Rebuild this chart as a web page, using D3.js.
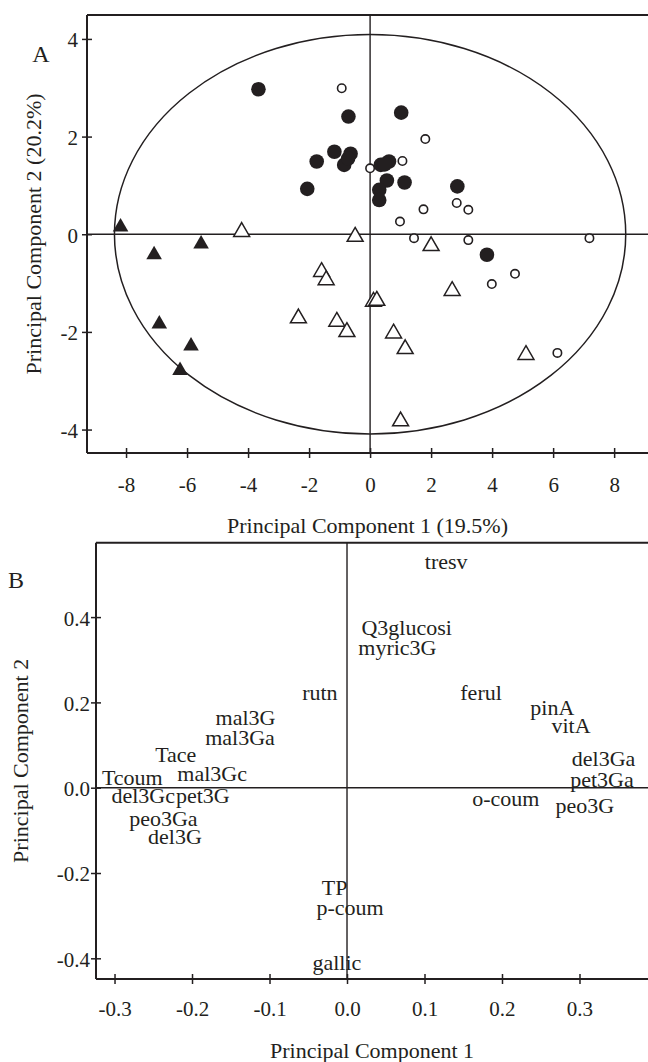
<!DOCTYPE html>
<html><head><meta charset="utf-8">
<script src="https://cdn.jsdelivr.net/npm/d3@7"></script>
<style>
body{margin:0;background:#fff;}
svg text{font-family:"Liberation Serif","Times New Roman",serif;fill:#231f20;}
</style></head>
<body><svg id="c" width="648" height="1062"></svg>
<script>
// ---------- Panel A data (scores) ----------
const filledCircles = [[-3.66,2.97],[-0.71,2.41],[1.02,2.49],[-1.75,1.49],[-2.06,0.93],[-1.17,1.69],[-0.64,1.65],[-0.85,1.42],[-0.72,1.55],[0.35,1.42],[0.62,1.49],[0.48,1.43],[0.55,1.10],[1.13,1.06],[0.30,0.91],[0.30,0.70],[2.86,0.98],[3.83,-0.42]];
const openCircles = [[-0.93,2.99],[1.81,1.95],[0.0,1.35],[1.06,1.50],[2.84,0.64],[3.22,0.50],[1.75,0.51],[0.98,0.26],[1.44,-0.08],[3.22,-0.12],[7.19,-0.08],[4.75,-0.81],[3.99,-1.02],[6.14,-2.43]];
const openTriangles = [[-4.21,0.05],[-0.49,-0.05],[2.0,-0.24],[-1.59,-0.77],[-1.44,-0.94],[2.69,-1.16],[-2.35,-1.72],[-1.09,-1.79],[-0.76,-2.0],[0.11,-1.38],[0.22,-1.36],[0.77,-2.03],[1.15,-2.35],[5.11,-2.47],[1.0,-3.83]];
const filledTriangles = [[-8.18,0.15],[-7.08,-0.42],[-5.54,-0.20],[-6.91,-1.84],[-5.87,-2.29],[-6.23,-2.79]];
const ellipseRadii = [8.38, 4.09];
const xTicksA = [-8,-6,-4,-2,0,2,4,6,8];
const yTicksA = [-4,-2,0,2,4];

// ---------- Panel B data (loadings) ----------
const loadNames = ["tresv","Q3glucosi","myric3G","rutn","ferul","pinA","vitA","mal3G","mal3Ga","Tace","Tcoum","mal3Gc","del3Ga","pet3Ga","o-coum","peo3G","del3Gc","pet3G","peo3Ga","del3G","TP","p-coum","gallic"];
const loadPC1 = [0.128,0.077,0.065,-0.035,0.173,0.265,0.289,-0.131,-0.138,-0.221,-0.277,-0.174,0.331,0.329,0.205,0.307,-0.263,-0.186,-0.237,-0.222,-0.016,0.004,-0.013];
const loadPC2 = [0.531,0.376,0.329,0.224,0.224,0.189,0.146,0.165,0.118,0.078,0.024,0.034,0.069,0.020,-0.025,-0.041,-0.018,-0.018,-0.072,-0.114,-0.234,-0.280,-0.409];
const xTicksB = [-0.3,-0.2,-0.1,0.0,0.1,0.2,0.3];
const yTicksB = [-0.4,-0.2,0.0,0.2,0.4];

const svg = d3.select("#c");
const hy = f => (d => f(d).replace("\u2212","-"));

// ---------- Panel A ----------
const xA = d3.scaleLinear().domain([-9.28, 9.11]).range([87, 648]);
const yA = d3.scaleLinear().domain([-4.48, 4.49]).range([453, 15]);
const gA = svg.append("g");

function frame(g, x, y){
  const [x0,x1] = x.range(), [y0,y1] = y.range();
  g.append("line").attr("x1",x0).attr("x2",x1).attr("y1",y1).attr("y2",y1).attr("stroke","#231f20").attr("stroke-width",2);
  g.append("line").attr("x1",x0).attr("x2",x0).attr("y1",y1).attr("y2",y0).attr("stroke","#231f20").attr("stroke-width",2);
  g.append("line").attr("x1",x0).attr("x2",x1).attr("y1",y0).attr("y2",y0).attr("stroke","#231f20").attr("stroke-width",2);
  g.append("line").attr("x1",x(0)).attr("x2",x(0)).attr("y1",y1).attr("y2",y0).attr("stroke","#231f20").attr("stroke-width",1.4);
  g.append("line").attr("x1",x0).attr("x2",x1).attr("y1",y(0)).attr("y2",y(0)).attr("stroke","#231f20").attr("stroke-width",1.4);
}
function axes(g, x, y, xt, yt, fmt, xLabBase, yLabGap){
  const [y0] = y.range(), [x0] = x.range();
  const ax = g.append("g").attr("transform",`translate(0,${y0})`)
    .call(d3.axisBottom(x).tickValues(xt).tickFormat(fmt).tickSize(5).tickPadding(0));
  ax.select(".domain").remove();
  ax.selectAll(".tick line").attr("y1",-5).attr("y2",5).attr("stroke","#231f20").attr("stroke-width",1.5);
  ax.selectAll(".tick text").attr("y", xLabBase - y0).attr("dy",null).attr("font-size",21).attr("fill","#231f20");
  const ay = g.append("g").attr("transform",`translate(${x0},0)`)
    .call(d3.axisLeft(y).tickValues(yt).tickFormat(fmt).tickSize(5).tickPadding(0));
  ay.select(".domain").remove();
  ay.selectAll(".tick line").attr("x1",-5).attr("x2",5).attr("stroke","#231f20").attr("stroke-width",1.5);
  ay.selectAll(".tick text").attr("x",-yLabGap).attr("dy","0.38em").attr("font-size",21).attr("fill","#231f20");
  g.selectAll(".tick text").style("font-family","'Liberation Serif',serif");
}

gA.append("ellipse")
  .attr("cx", xA(0)).attr("cy", yA(0))
  .attr("rx", xA(ellipseRadii[0]) - xA(0)).attr("ry", yA(0) - yA(ellipseRadii[1]))
  .attr("fill","none").attr("stroke","#231f20").attr("stroke-width",1.5);

frame(gA, xA, yA);
axes(gA, xA, yA, xTicksA, yTicksA, hy(d3.format("d")), 492, 9);

const tri = d3.symbol().type(d3.symbolTriangle);
gA.selectAll(".ot").data(openTriangles).join("path")
  .attr("d", tri.size(110)()).attr("transform",d=>`translate(${xA(d[0])},${yA(d[1])})`)
  .attr("fill","#fff").attr("stroke","#231f20").attr("stroke-width",1.5);
gA.selectAll(".ft").data(filledTriangles).join("path")
  .attr("d", tri.size(105)()).attr("transform",d=>`translate(${xA(d[0])},${yA(d[1])})`)
  .attr("fill","#231f20");
gA.selectAll(".oc").data(openCircles).join("circle")
  .attr("cx",d=>xA(d[0])).attr("cy",d=>yA(d[1])).attr("r",4.2)
  .attr("fill","#fff").attr("stroke","#231f20").attr("stroke-width",1.6);
gA.selectAll(".fc").data(filledCircles).join("circle")
  .attr("cx",d=>xA(d[0])).attr("cy",d=>yA(d[1])).attr("r",7.3)
  .attr("fill","#231f20");

gA.append("text").attr("x",41).attr("y",62).attr("text-anchor","middle").attr("font-size",24).text("A");
gA.append("text").attr("transform",`translate(41,${(yA.range()[0]+yA.range()[1])/2}) rotate(-90)`)
  .attr("text-anchor","middle").attr("font-size",22).text("Principal Component 2 (20.2%)");
gA.append("text").attr("x",(xA.range()[0]+xA.range()[1])/2).attr("y",533).attr("text-anchor","middle")
  .attr("font-size",22).text("Principal Component 1 (19.5%)");

// ---------- Panel B ----------
const xB = d3.scaleLinear().domain([-0.3239, 0.3884]).range([96, 648]);
const yB = d3.scaleLinear().domain([-0.4485, 0.5744]).range([979, 542.7]);
const gB = svg.append("g");
frame(gB, xB, yB);
axes(gB, xB, yB, xTicksB, yTicksB, hy(d3.format(".1f")), 1016, 6);

const loads = loadNames.map((n,i)=>({n, x:loadPC1[i], y:loadPC2[i]}));
gB.selectAll(".lab").data(loads).join("text")
  .attr("x",d=>xB(d.x)).attr("y",d=>yB(d.y)).attr("dy","0.35em")
  .attr("text-anchor","middle").attr("font-size",22).text(d=>d.n);

gB.append("text").attr("x",16).attr("y",588).attr("text-anchor","middle").attr("font-size",24).text("B");
gB.append("text").attr("transform",`translate(28,${(yB.range()[0]+yB.range()[1])/2}) rotate(-90)`)
  .attr("text-anchor","middle").attr("font-size",22).text("Principal Component 2");
gB.append("text").attr("x",(xB.range()[0]+xB.range()[1])/2).attr("y",1058).attr("text-anchor","middle")
  .attr("font-size",22).text("Principal Component 1");
</script></body></html>
